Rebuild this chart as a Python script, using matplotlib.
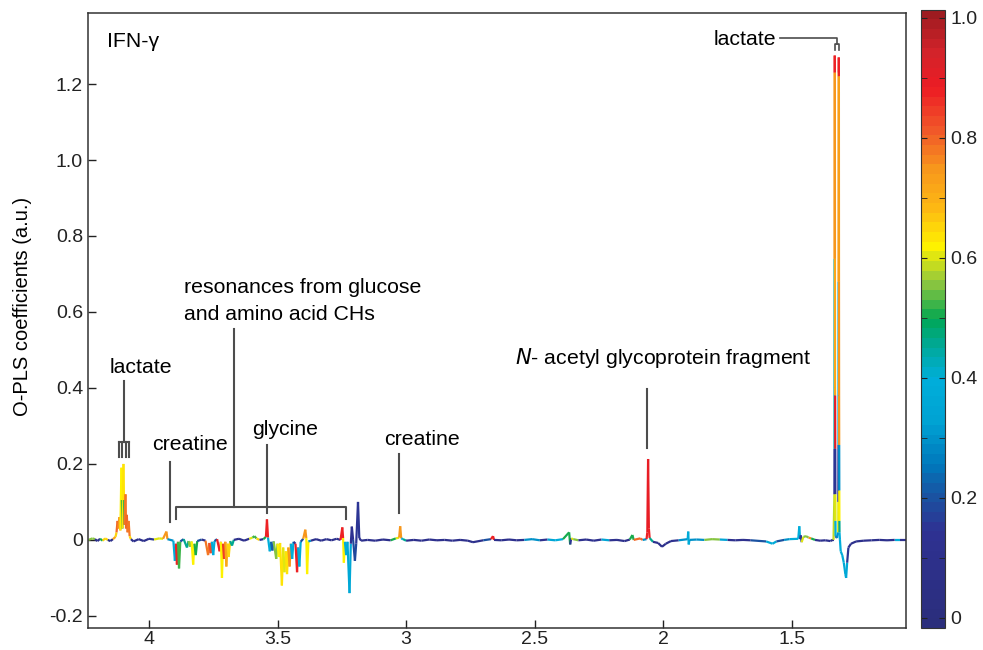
import matplotlib
matplotlib.use("Agg")
import matplotlib.pyplot as plt
import numpy as np
from matplotlib.collections import LineCollection
from matplotlib.colors import LinearSegmentedColormap, ListedColormap, Normalize
from matplotlib.cm import ScalarMappable

plt.rcParams['font.family'] = ['Liberation Sans', 'DejaVu Sans']

# chemical shift (ppm), O-PLS coefficient, correlation |r| for each point
ppm = [4.235, 4.22, 4.21, 4.20, 4.19, 4.18, 4.17, 4.16, 4.15, 4.14, 4.13,
       # lactate quartet
       4.126, 4.122, 4.119, 4.115, 4.111, 4.107, 4.105, 4.103, 4.099, 4.097, 4.095,
       4.091, 4.089, 4.086, 4.083, 4.079, 4.075, 4.07,
       4.06, 4.04, 4.02, 4.00, 3.98, 3.96, 3.945, 3.932, 3.928,
       # glucose / amino acid region
       3.905, 3.899, 3.895, 3.891, 3.887, 3.883, 3.878, 3.865, 3.852, 3.846, 3.840,
       3.834, 3.828, 3.823, 3.818, 3.812, 3.795, 3.780, 3.770, 3.765, 3.760, 3.755,
       3.750, 3.745, 3.735, 3.725, 3.720, 3.716, 3.712, 3.708, 3.703, 3.699, 3.694,
       3.690, 3.684, 3.677, 3.670, 3.650, 3.630, 3.610, 3.597, 3.590, 3.582, 3.570,
       3.555, 3.545, 3.541, 3.537, 3.530, 3.525, 3.520, 3.515, 3.505, 3.500, 3.495,
       3.490, 3.483, 3.478, 3.473, 3.468, 3.463, 3.458, 3.453, 3.448, 3.443, 3.438,
       3.430, 3.424, 3.420, 3.415, 3.410, 3.400, 3.392, 3.388, 3.385, 3.380, 3.370,
       3.350, 3.330, 3.310, 3.290, 3.270, 3.255, 3.248, 3.245, 3.242, 3.238, 3.233,
       3.228, 3.220, 3.215, 3.211, 3.206, 3.199, 3.194, 3.187, 3.182, 3.175,
       3.15, 3.12, 3.09, 3.06, 3.040, 3.027, 3.023, 3.019, 3.012, 3.00,
       2.97, 2.94, 2.91, 2.88, 2.85, 2.82, 2.79, 2.76, 2.74, 2.70, 2.67, 2.662, 2.658,
       2.63, 2.60, 2.57, 2.54, 2.51, 2.48, 2.45, 2.42, 2.39, 2.366, 2.362, 2.358,
       2.35, 2.33, 2.30, 2.27, 2.24, 2.21, 2.18, 2.15, 2.13, 2.12, 2.115, 2.09, 2.08,
       # N-acetyl glycoprotein
       2.065, 2.062, 2.059, 2.056, 2.053, 2.04, 2.02, 2.005, 1.99, 1.97, 1.94,
       1.905, 1.903, 1.901, 1.898, 1.87, 1.84, 1.81, 1.78, 1.75, 1.72, 1.69, 1.66,
       1.60, 1.575, 1.56, 1.53, 1.51, 1.475, 1.471, 1.468, 1.465, 1.462, 1.455,
       1.445, 1.435, 1.425, 1.41, 1.39, 1.37, 1.35, 1.342,
       # lactate doublet
       1.338, 1.3345, 1.3342, 1.3339, 1.3335, 1.3332, 1.3328, 1.3324, 1.3320,
       1.3316, 1.3312, 1.3308, 1.3304, 1.330, 1.3245,
       1.3195, 1.3191, 1.3187, 1.3183, 1.3179, 1.3175, 1.3171, 1.3167, 1.3163,
       1.3159, 1.3155, 1.3151, 1.3147,
       1.313, 1.310, 1.304, 1.298, 1.292, 1.289, 1.285, 1.28, 1.27, 1.25, 1.22,
       1.19, 1.16, 1.13, 1.10, 1.08, 1.056]

coef = [0.000, 0.004, 0.002, -0.003, 0.003, -0.002, 0.004, 0.000, -0.003, 0.002, 0.008,
        0.02, 0.05, 0.03, 0.06, 0.025, 0.19, 0.105, 0.03, 0.20, 0.105, 0.04,
        0.12, 0.03, 0.066, 0.02, 0.05, 0.01, 0.002,
        -0.004, 0.002, -0.003, 0.003, 0.001, 0.004, 0.003, 0.022, 0.002,
        -0.002, -0.055, -0.01, -0.065, -0.005, -0.075, -0.004, 0.002, -0.02, -0.003, -0.018,
        -0.004, -0.065, -0.01, -0.04, -0.003, 0.001, -0.002, -0.04, -0.008, -0.035, -0.005,
        -0.04, -0.003, 0.002, -0.03, -0.005, -0.10, -0.01, -0.05, -0.005, -0.07, -0.01,
        -0.045, -0.003, -0.015, 0.000, 0.003, -0.002, 0.003, 0.006, 0.010, 0.004, 0.000,
        0.002, 0.008, 0.054, 0.006, -0.03, -0.005, -0.028, -0.004, -0.05, -0.01, -0.045,
        -0.008, -0.12, -0.02, -0.085, -0.03, -0.09, -0.02, -0.07, -0.01, -0.05, -0.005,
        -0.01, -0.085, -0.02, -0.07, -0.005, 0.003, 0.027, 0.005, -0.09, -0.004, -0.002,
        0.002, -0.002, 0.002, -0.001, 0.003, 0.000, 0.033, 0.005, -0.06, -0.005, -0.04,
        -0.005, -0.14, -0.01, 0.035, 0.000, -0.055, -0.01, 0.10, 0.005, -0.002,
        0.000, -0.002, 0.001, -0.001, 0.004, 0.006, 0.036, 0.004, 0.002, -0.002,
        0.000, -0.002, 0.001, -0.001, 0.000, -0.002, 0.000, -0.002, -0.006, -0.001, 0.002, 0.010, 0.000,
        -0.001, 0.001, -0.001, 0.000, 0.002, -0.001, 0.001, -0.001, 0.002, 0.02, -0.012, 0.004,
        0.002, -0.001, 0.001, -0.002, 0.001, -0.001, 0.000, -0.003, 0.001, 0.013, 0.000, 0.004, 0.000,
        0.002, 0.02, 0.213, 0.03, 0.005, -0.005, -0.008, -0.018, -0.010, -0.003, -0.001,
        0.002, 0.022, -0.012, 0.000, 0.001, 0.000, 0.002, 0.001, 0.000, -0.001, 0.000, -0.001,
        -0.004, -0.010, -0.004, 0.000, 0.002, 0.003, 0.036, 0.002, 0.012, -0.006, 0.008,
        0.010, 0.006, 0.004, 0.000, -0.002, -0.001, -0.003, 0.000,
        0.000, 0.12, 0.24, 0.74, 1.23, 1.275, 1.23, 0.74, 0.40, 0.38, 0.24, 0.12, 0.05, 0.01, 0.005,
        0.02, 0.10, 0.25, 0.68, 1.23, 1.27, 1.22, 0.68, 0.38, 0.25, 0.13, 0.05, 0.02,
        0.000, -0.03, -0.04, -0.06, -0.09, -0.10, -0.06, -0.02, -0.01, -0.004, -0.002,
        -0.001, 0.000, -0.001, 0.000, 0.000, 0.000]

corr = [0.10, 0.55, 0.62, 0.12, 0.50, 0.10, 0.65, 0.40, 0.10, 0.70, 0.72,
        0.65, 0.80, 0.70, 0.75, 0.65, 0.62, 0.50, 0.65, 0.63, 0.52, 0.72,
        0.78, 0.70, 0.80, 0.72, 0.78, 0.65, 0.30,
        0.10, 0.12, 0.10, 0.15, 0.45, 0.60, 0.55, 0.75, 0.30,
        0.15, 0.40, 0.30, 0.88, 0.40, 0.52, 0.20, 0.12, 0.45, 0.30, 0.55,
        0.20, 0.62, 0.50, 0.50, 0.20, 0.10, 0.12, 0.78, 0.60, 0.82, 0.30,
        0.40, 0.20, 0.12, 0.88, 0.50, 0.62, 0.60, 0.85, 0.50, 0.72, 0.60,
        0.65, 0.20, 0.45, 0.12, 0.10, 0.12, 0.10, 0.60, 0.52, 0.65, 0.12,
        0.15, 0.50, 0.88, 0.45, 0.40, 0.25, 0.22, 0.12, 0.55, 0.50, 0.62,
        0.50, 0.63, 0.60, 0.60, 0.52, 0.63, 0.70, 0.75, 0.40, 0.40, 0.20,
        0.15, 0.88, 0.50, 0.40, 0.20, 0.12, 0.75, 0.40, 0.62, 0.30, 0.10,
        0.10, 0.12, 0.10, 0.12, 0.10, 0.30, 0.88, 0.50, 0.62, 0.40, 0.40,
        0.30, 0.36, 0.30, 0.14, 0.15, 0.18, 0.15, 0.16, 0.12, 0.10,
        0.10, 0.12, 0.10, 0.12, 0.50, 0.60, 0.75, 0.40, 0.45, 0.10,
        0.12, 0.10, 0.12, 0.10, 0.12, 0.10, 0.12, 0.10, 0.10, 0.12, 0.20, 0.88, 0.15,
        0.10, 0.12, 0.10, 0.12, 0.30, 0.12, 0.35, 0.12, 0.40, 0.50, 0.15, 0.60,
        0.55, 0.12, 0.40, 0.12, 0.35, 0.12, 0.10, 0.10, 0.10, 0.50, 0.12, 0.80, 0.12,
        0.30, 0.88, 0.90, 0.88, 0.45, 0.10, 0.10, 0.10, 0.10, 0.12, 0.10,
        0.30, 0.38, 0.38, 0.20, 0.30, 0.40, 0.55, 0.35, 0.15, 0.12, 0.10, 0.12,
        0.20, 0.38, 0.20, 0.12, 0.30, 0.40, 0.40, 0.30, 0.15, 0.15, 0.60,
        0.55, 0.75, 0.50, 0.15, 0.12, 0.10, 0.12, 0.10,
        0.10, 0.58, 0.15, 0.42, 0.74, 0.88, 0.74, 0.72, 0.72, 0.90, 0.15, 0.60, 0.40, 0.20, 0.12,
        0.30, 0.60, 0.15, 0.40, 0.73, 0.88, 0.73, 0.74, 0.75, 0.30, 0.62, 0.45, 0.40,
        0.40, 0.40, 0.38, 0.38, 0.36, 0.36, 0.15, 0.12, 0.10, 0.10, 0.12,
        0.10, 0.12, 0.10, 0.40, 0.12, 0.10]

cbar_ticks = [0, 0.2, 0.4, 0.6, 0.8, 1.0]
cbar_labels = ['0', '0.2', '0.4', '0.6', '0.8', '1.0']
y_ticks = [-0.2, 0, 0.2, 0.4, 0.6, 0.8, 1.0, 1.2]
y_labels = ['-0.2', '0', '0.2', '0.4', '0.6', '0.8', '1.0', '1.2']
x_ticks = [4, 3.5, 3, 2.5, 2, 1.5]
x_labels = ['4', '3.5', '3', '2.5', '2', '1.5']

# jet-like map as it looks in print, cut in 64 bands
anchors = [(0.00, '#2b2e7c'), (0.15, '#2e3192'), (0.20, '#1c4f9f'), (0.26, '#0077bb'),
           (0.33, '#00a2d3'), (0.40, '#00aeda'), (0.45, '#00a99d'), (0.50, '#00a651'),
           (0.56, '#8dc63f'), (0.62, '#fff200'), (0.68, '#fdb913'), (0.75, '#f7941d'),
           (0.81, '#f15a29'), (0.88, '#ed1c24'), (0.94, '#d2232a'), (1.00, '#9e1b20')]
smooth = LinearSegmentedColormap.from_list('printjet', anchors)
cmap = ListedColormap(smooth(np.linspace(0, 1, 64)))
norm = Normalize(vmin=-0.017, vmax=1.013)

fig = plt.figure(figsize=(9.83, 6.5), dpi=100)
ax = fig.add_axes([0.0895, 0.034, 0.8322, 0.946])

x = np.array(ppm)
y = np.array(coef)
c = np.array(corr)
pts = np.column_stack([x, y])
segs = np.stack([pts[:-1], pts[1:]], axis=1)
seg_c = np.where(np.abs(y[:-1]) >= np.abs(y[1:]), c[:-1], c[1:])
lc = LineCollection(segs, cmap=cmap, norm=norm, linewidths=1.6)
lc.set_array(seg_c)
ax.add_collection(lc)

ax.set_xlim(4.237, 1.056)
ax.set_ylim(-0.2316, 1.387)
ax.set_xticks(x_ticks)
ax.set_xticklabels(x_labels)
ax.set_yticks(y_ticks)
ax.set_yticklabels(y_labels)
ax.tick_params(direction='in', length=6, width=1, labelsize=14, colors='#222222')
ax.tick_params(axis='x', pad=2)
for s in ax.spines.values():
    s.set_color('#333333')
    s.set_linewidth(1.1)
ax.set_ylabel('O-PLS coefficients (a.u.)', fontsize=14.5)
ax.yaxis.set_label_coords(-0.068, 0.522)

# annotations
lcol = '#4d4d4d'
fs = 15.3
ax.text(0.023, 0.953, 'IFN-γ', transform=ax.transAxes, fontsize=fs, va='center', ha='left')

ax.text(1.562, 1.317, 'lactate', fontsize=fs, ha='right', va='center')
ax.plot([1.545, 1.326, 1.326], [1.322, 1.322, 1.305], color=lcol, lw=1.2)
ax.plot([1.332, 1.332, 1.318, 1.318], [1.290, 1.305, 1.305, 1.290], color=lcol, lw=1.2)

ax.text(4.031, 0.454, 'lactate', fontsize=fs, ha='center', va='center')
ax.plot([4.098, 4.098], [0.417, 0.259], color=lcol, lw=1.5)
ax.plot([4.116, 4.077], [0.259, 0.259], color=lcol, lw=1.5)
for lx in [4.116, 4.103, 4.090, 4.077]:
    ax.plot([lx, lx], [0.259, 0.217], color=lcol, lw=1.5)

ax.text(3.84, 0.251, 'creatine', fontsize=fs, ha='center', va='center')
ax.plot([3.918, 3.918], [0.204, 0.046], color=lcol, lw=1.5)

ax.text(3.864, 0.664, 'resonances from glucose', fontsize=fs, ha='left', va='center')
ax.text(3.864, 0.593, 'and amino acid CHs', fontsize=fs, ha='left', va='center')
ax.plot([3.669, 3.669], [0.554, 0.0855], color=lcol, lw=1.5)
ax.plot([3.895, 3.895, 3.233, 3.233], [0.054, 0.0855, 0.0855, 0.054], color=lcol, lw=1.5)

ax.text(3.471, 0.291, 'glycine', fontsize=fs, ha='center', va='center')
ax.plot([3.541, 3.541], [0.251, 0.072], color=lcol, lw=1.5)

ax.text(2.938, 0.264, 'creatine', fontsize=fs, ha='center', va='center')
ax.plot([3.027, 3.027], [0.225, 0.072], color=lcol, lw=1.5)

ax.text(2.576, 0.480, r'$\mathit{N}$' + '- acetyl glycoprotein fragment', fontsize=fs,
        ha='left', va='center')
ax.plot([2.062, 2.062], [0.396, 0.243], color=lcol, lw=1.5)

# colour bar
cax = fig.add_axes([0.937, 0.034, 0.0245, 0.951])
cb = fig.colorbar(ScalarMappable(norm=norm, cmap=cmap), cax=cax, ticks=cbar_ticks)
cb.set_ticklabels(cbar_labels)
cb.outline.set_edgecolor('#333333')
cax.set_yticks([0.1, 0.3, 0.5, 0.7, 0.9], minor=True)
cax.tick_params(which='both', direction='in', left=True, right=True, length=4,
                labelsize=14, colors='#222222')

fig.savefig('out.png', dpi=100)
